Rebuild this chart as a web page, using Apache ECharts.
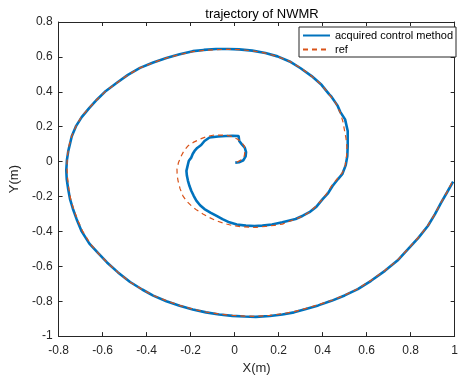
<!DOCTYPE html>
<html>
<head>
<meta charset="utf-8">
<script src="https://cdn.jsdelivr.net/npm/echarts@6/dist/echarts.min.js"></script>
<style>
  html, body { margin: 0; padding: 0; background: #fff; }
  #chart { width: 461px; height: 380px; }
</style>
</head>
<body>
<div id="chart"></div>
<script>
// tracked trajectory [x, y] in metres
const ctrlPath = [
  [0.003,-0.006],[0.020,-0.004],[0.040,0.008],[0.050,0.030],[0.052,0.055],[0.046,0.080],[0.032,0.100],
  [0.021,0.118],[0.018,0.147],[-0.010,0.148],[-0.039,0.147],[-0.075,0.144],[-0.114,0.138],[-0.137,0.118],
  [-0.152,0.095],[-0.170,0.078],[-0.182,0.061],[-0.190,0.045],[-0.197,0.023],[-0.208,0.005],[-0.212,-0.015],
  [-0.219,-0.053],[-0.217,-0.080],[-0.212,-0.110],[-0.205,-0.140],[-0.197,-0.167],[-0.186,-0.196],
  [-0.174,-0.224],[-0.157,-0.250],[-0.137,-0.272],[-0.110,-0.292],[-0.084,-0.310],[-0.055,-0.330],
  [-0.024,-0.348],[0.010,-0.360],[0.051,-0.367],[0.090,-0.369],[0.126,-0.367],[0.170,-0.360],[0.217,-0.348],
  [0.250,-0.337],[0.277,-0.329],[0.310,-0.310],[0.340,-0.290],[0.372,-0.258],[0.400,-0.215],[0.425,-0.180],
  [0.445,-0.140],[0.470,-0.100],[0.490,-0.070],[0.505,-0.020],[0.512,0.030],[0.514,0.090],[0.514,0.175],
  [0.502,0.242],[0.480,0.285],[0.468,0.320],[0.460,0.335],[0.440,0.372],[0.430,0.385],[0.395,0.440],
  [0.350,0.490],[0.300,0.535],[0.250,0.574],[0.195,0.603],[0.140,0.622],[0.080,0.636],[0.020,0.643],
  [-0.030,0.645],[-0.085,0.645],[-0.140,0.640],[-0.190,0.633],[-0.250,0.615],[-0.310,0.594],[-0.370,0.568],
  [-0.430,0.537],[-0.485,0.497],[-0.535,0.452],[-0.585,0.405],[-0.625,0.356],[-0.660,0.308],[-0.695,0.255],
  [-0.720,0.205],[-0.740,0.145],[-0.756,0.060],[-0.762,0.010],[-0.765,-0.050],[-0.763,-0.100],[-0.756,-0.160],
  [-0.748,-0.215],[-0.735,-0.270],[-0.718,-0.330],[-0.695,-0.400],[-0.660,-0.470],[-0.620,-0.525],
  [-0.580,-0.578],[-0.530,-0.635],[-0.475,-0.690],[-0.420,-0.733],[-0.370,-0.768],[-0.310,-0.800],
  [-0.250,-0.826],[-0.190,-0.847],[-0.130,-0.864],[-0.070,-0.876],[-0.010,-0.884],[0.045,-0.888],
  [0.096,-0.890],[0.160,-0.885],[0.217,-0.876],[0.270,-0.864],[0.320,-0.846],[0.380,-0.824],[0.440,-0.798],
  [0.500,-0.767],[0.560,-0.731],[0.620,-0.683],[0.683,-0.626],[0.740,-0.567],[0.788,-0.502],[0.835,-0.437],
  [0.878,-0.369],[0.910,-0.302],[0.938,-0.236],[0.965,-0.177],[0.993,-0.115]
];

// reference trajectory [x, y] in metres
const refPath = [
  [0.010,-0.004],[0.030,0.010],[0.044,0.033],[0.047,0.060],[0.044,0.090],[0.030,0.112],[0.014,0.128],
  [-0.015,0.145],[-0.039,0.151],[-0.070,0.152],[-0.099,0.151],[-0.130,0.142],[-0.159,0.128],[-0.188,0.110],
  [-0.212,0.090],[-0.230,0.062],[-0.242,0.033],[-0.255,-0.005],[-0.262,-0.043],[-0.261,-0.080],
  [-0.257,-0.110],[-0.248,-0.155],[-0.235,-0.196],[-0.218,-0.227],[-0.197,-0.253],[-0.172,-0.278],
  [-0.144,-0.300],[-0.115,-0.320],[-0.084,-0.339],[-0.045,-0.355],[-0.009,-0.367],[0.030,-0.373],
  [0.066,-0.376],[0.100,-0.377],[0.142,-0.371],[0.180,-0.365],[0.217,-0.358],[0.250,-0.342],[0.277,-0.329],
  [0.310,-0.312],[0.340,-0.290],[0.370,-0.255],[0.400,-0.215],[0.420,-0.180],[0.440,-0.140],[0.465,-0.100],
  [0.490,-0.063],[0.502,-0.025],[0.507,0.013],[0.510,0.050],[0.510,0.090],[0.506,0.135],[0.500,0.175],
  [0.492,0.230],[0.480,0.280],[0.460,0.335],[0.430,0.385],[0.395,0.440],[0.350,0.490],[0.300,0.537],
  [0.250,0.575],[0.195,0.602],[0.140,0.622],[0.080,0.635],[0.020,0.642],[-0.030,0.643],[-0.085,0.642],
  [-0.140,0.637],[-0.190,0.630],[-0.250,0.613],[-0.310,0.594],[-0.370,0.567],[-0.430,0.537],[-0.485,0.497],
  [-0.535,0.451],[-0.585,0.405],[-0.625,0.356],[-0.660,0.310],[-0.695,0.260],[-0.720,0.205],[-0.740,0.147],
  [-0.753,0.090],[-0.760,0.032],[-0.762,-0.025],[-0.760,-0.082],[-0.754,-0.150],[-0.745,-0.215],
  [-0.732,-0.270],[-0.715,-0.330],[-0.690,-0.400],[-0.655,-0.472],[-0.620,-0.525],[-0.580,-0.577],
  [-0.530,-0.635],[-0.475,-0.691],[-0.420,-0.732],[-0.370,-0.767],[-0.310,-0.797],[-0.250,-0.824],
  [-0.190,-0.845],[-0.130,-0.862],[-0.070,-0.873],[-0.010,-0.881],[0.045,-0.885],[0.096,-0.887],
  [0.160,-0.881],[0.217,-0.872],[0.270,-0.860],[0.320,-0.843],[0.380,-0.820],[0.440,-0.796],[0.500,-0.765],
  [0.560,-0.729],[0.620,-0.680],[0.683,-0.624],[0.740,-0.565],[0.788,-0.500],[0.835,-0.435],[0.878,-0.367],
  [0.910,-0.300],[0.938,-0.234],[0.965,-0.175],[0.991,-0.110]
];

const seriesNames = ["acquired control method", "ref"];
const xRange = [-0.8, 1];
const yRange = [-1, 0.8];

const chart = echarts.init(document.getElementById("chart"));

const font = "'Liberation Sans', Arial, Helvetica, sans-serif";
const axisColor = "#262626";

function boxAxis(range, position, showLabels, name) {
  return {
    type: "value",
    position,
    min: range[0],
    max: range[1],
    interval: 0.2,
    name: showLabels ? name : "",
    nameLocation: "middle",
    nameGap: position === "bottom" ? 24 : 29,
    nameTextStyle: { color: axisColor, fontSize: 13, fontFamily: font },
    axisLine: { show: true, onZero: false, lineStyle: { color: axisColor, width: 1 } },
    axisTick: { show: true, inside: true, length: 4, lineStyle: { color: axisColor } },
    axisLabel: {
      show: showLabels,
      color: axisColor,
      fontSize: 12,
      fontFamily: font,
      margin: position === "bottom" ? 9 : 6,
      formatter: (v) => String(Math.round(v * 10) / 10),
    },
    splitLine: { show: false },
  };
}

chart.setOption({
  animation: false,
  title: {
    text: "trajectory of NWMR",
    left: 257,
    textAlign: "center",
    top: 3,
    textStyle: { color: "#000", fontSize: 13, fontWeight: "normal", fontFamily: font },
  },
  grid: { left: 58, right: 4, top: 22, bottom: 42 },
  legend: {
    orient: "vertical",
    left: 299,
    top: 27,
    itemWidth: 27,
    itemHeight: 12,
    itemGap: 3,
    padding: [3, 3, 2, 3],
    borderColor: axisColor,
    borderWidth: 1,
    backgroundColor: "#fff",
    itemStyle: { opacity: 0, borderWidth: 0 },
    textStyle: { color: "#000", fontSize: 11, fontFamily: font },
    data: seriesNames,
  },
  xAxis: [boxAxis(xRange, "bottom", true, "X(m)"), boxAxis(xRange, "top", false, "")],
  yAxis: [boxAxis(yRange, "left", true, "Y(m)"), boxAxis(yRange, "right", false, "")],
  series: [
    {
      name: seriesNames[1],
      type: "line",
      data: refPath,
      showSymbol: false,
      symbol: "none",
      z: 3,
      lineStyle: { color: "#D95319", width: 1.2, type: [5, 4] },
      itemStyle: { color: "#D95319" },
    },
    {
      name: seriesNames[0],
      type: "line",
      data: ctrlPath,
      showSymbol: false,
      symbol: "none",
      z: 2,
      lineStyle: { color: "#0072BD", width: 2.6 },
      itemStyle: { color: "#0072BD" },
    },
  ],
});
</script>
</body>
</html>
